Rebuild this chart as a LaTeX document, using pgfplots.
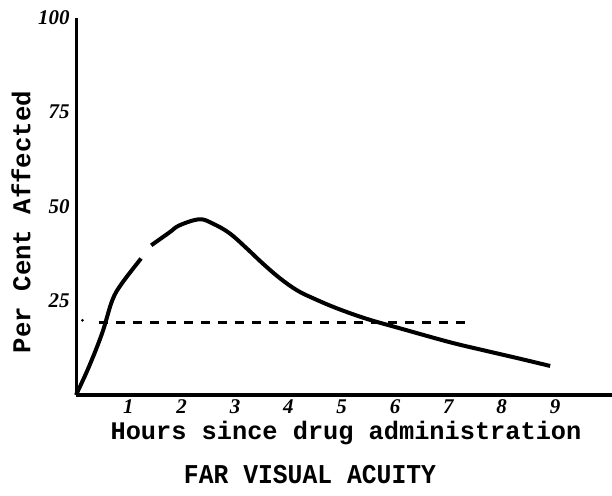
\documentclass[border=0pt]{standalone}
\usepackage{pgfplots}
\pgfplotsset{compat=1.18}
\usepackage{fontspec}
\setmainfont{Liberation Serif}
\newfontfamily\typew{Liberation Mono}
\begin{document}
\begin{tikzpicture}[x=1bp,y=1bp]
\path[use as bounding box] (0,0) rectangle (612,496);
\begin{axis}[
  at={(76bp,101bp)}, anchor=south west,
  scale only axis, width=536bp, height=377bp,
  xmin=0, xmax=10.05, ymin=0, ymax=100,
  axis lines=left,
  x axis line style={-, line width=3.5bp},
  y axis line style={-, line width=3bp},
  major tick length=0pt,
  clip=false,
  xtick={1,2,3,4,5,6,7,8,9},
  ytick={25,50,75,100},
  tick label style={font=\fontsize{21}{21}\selectfont\bfseries\itshape},
  xticklabel style={anchor=north, yshift=-1bp, xshift=-1bp},
  yticklabel style={anchor=east, xshift=-3bp},
  /pgf/number format/assume math mode=true,
]
\addplot[black, line width=4bp, smooth, tension=0.6] coordinates {
  (0,0) (0.24,7.4) (0.49,16.4) (0.68,25.1) (0.86,29.6) (1.22,36.2)
};
\addplot[black, line width=4bp, smooth, tension=0.6] coordinates {
  (1.41,39.7) (1.75,43.1) (1.94,45.0) (2.31,46.6) (2.56,45.5) (2.88,42.9)
  (3.20,38.9) (3.50,34.9) (3.82,31.0) (4.14,27.8) (4.44,25.7) (4.89,23.0)
  (5.45,20.2) (6.07,17.7) (7.01,14.0) (7.63,11.9) (8.27,9.8) (8.89,7.7)
};
\addplot[black, line width=3bp, dash pattern=on 9bp off 8bp] coordinates {
  (0.43,19.3) (7.33,19.3)
};
\addplot[black, only marks, mark=*, mark size=1.2bp] coordinates {(0.12,19.8)};
\end{axis}
\node[rotate=90, font=\typew\bfseries\fontsize{25.8}{26}\selectfont] at (21,274) {Per Cent Affected};
\node[font=\typew\bfseries\fontsize{25.4}{26}\selectfont] at (346,63) {Hours since drug administration};
\node[font=\typew\bfseries\fontsize{24.8}{25}\selectfont] at (310,21) {\scalebox{1}[1.1]{FAR VISUAL ACUITY}};
\end{tikzpicture}
\end{document}
